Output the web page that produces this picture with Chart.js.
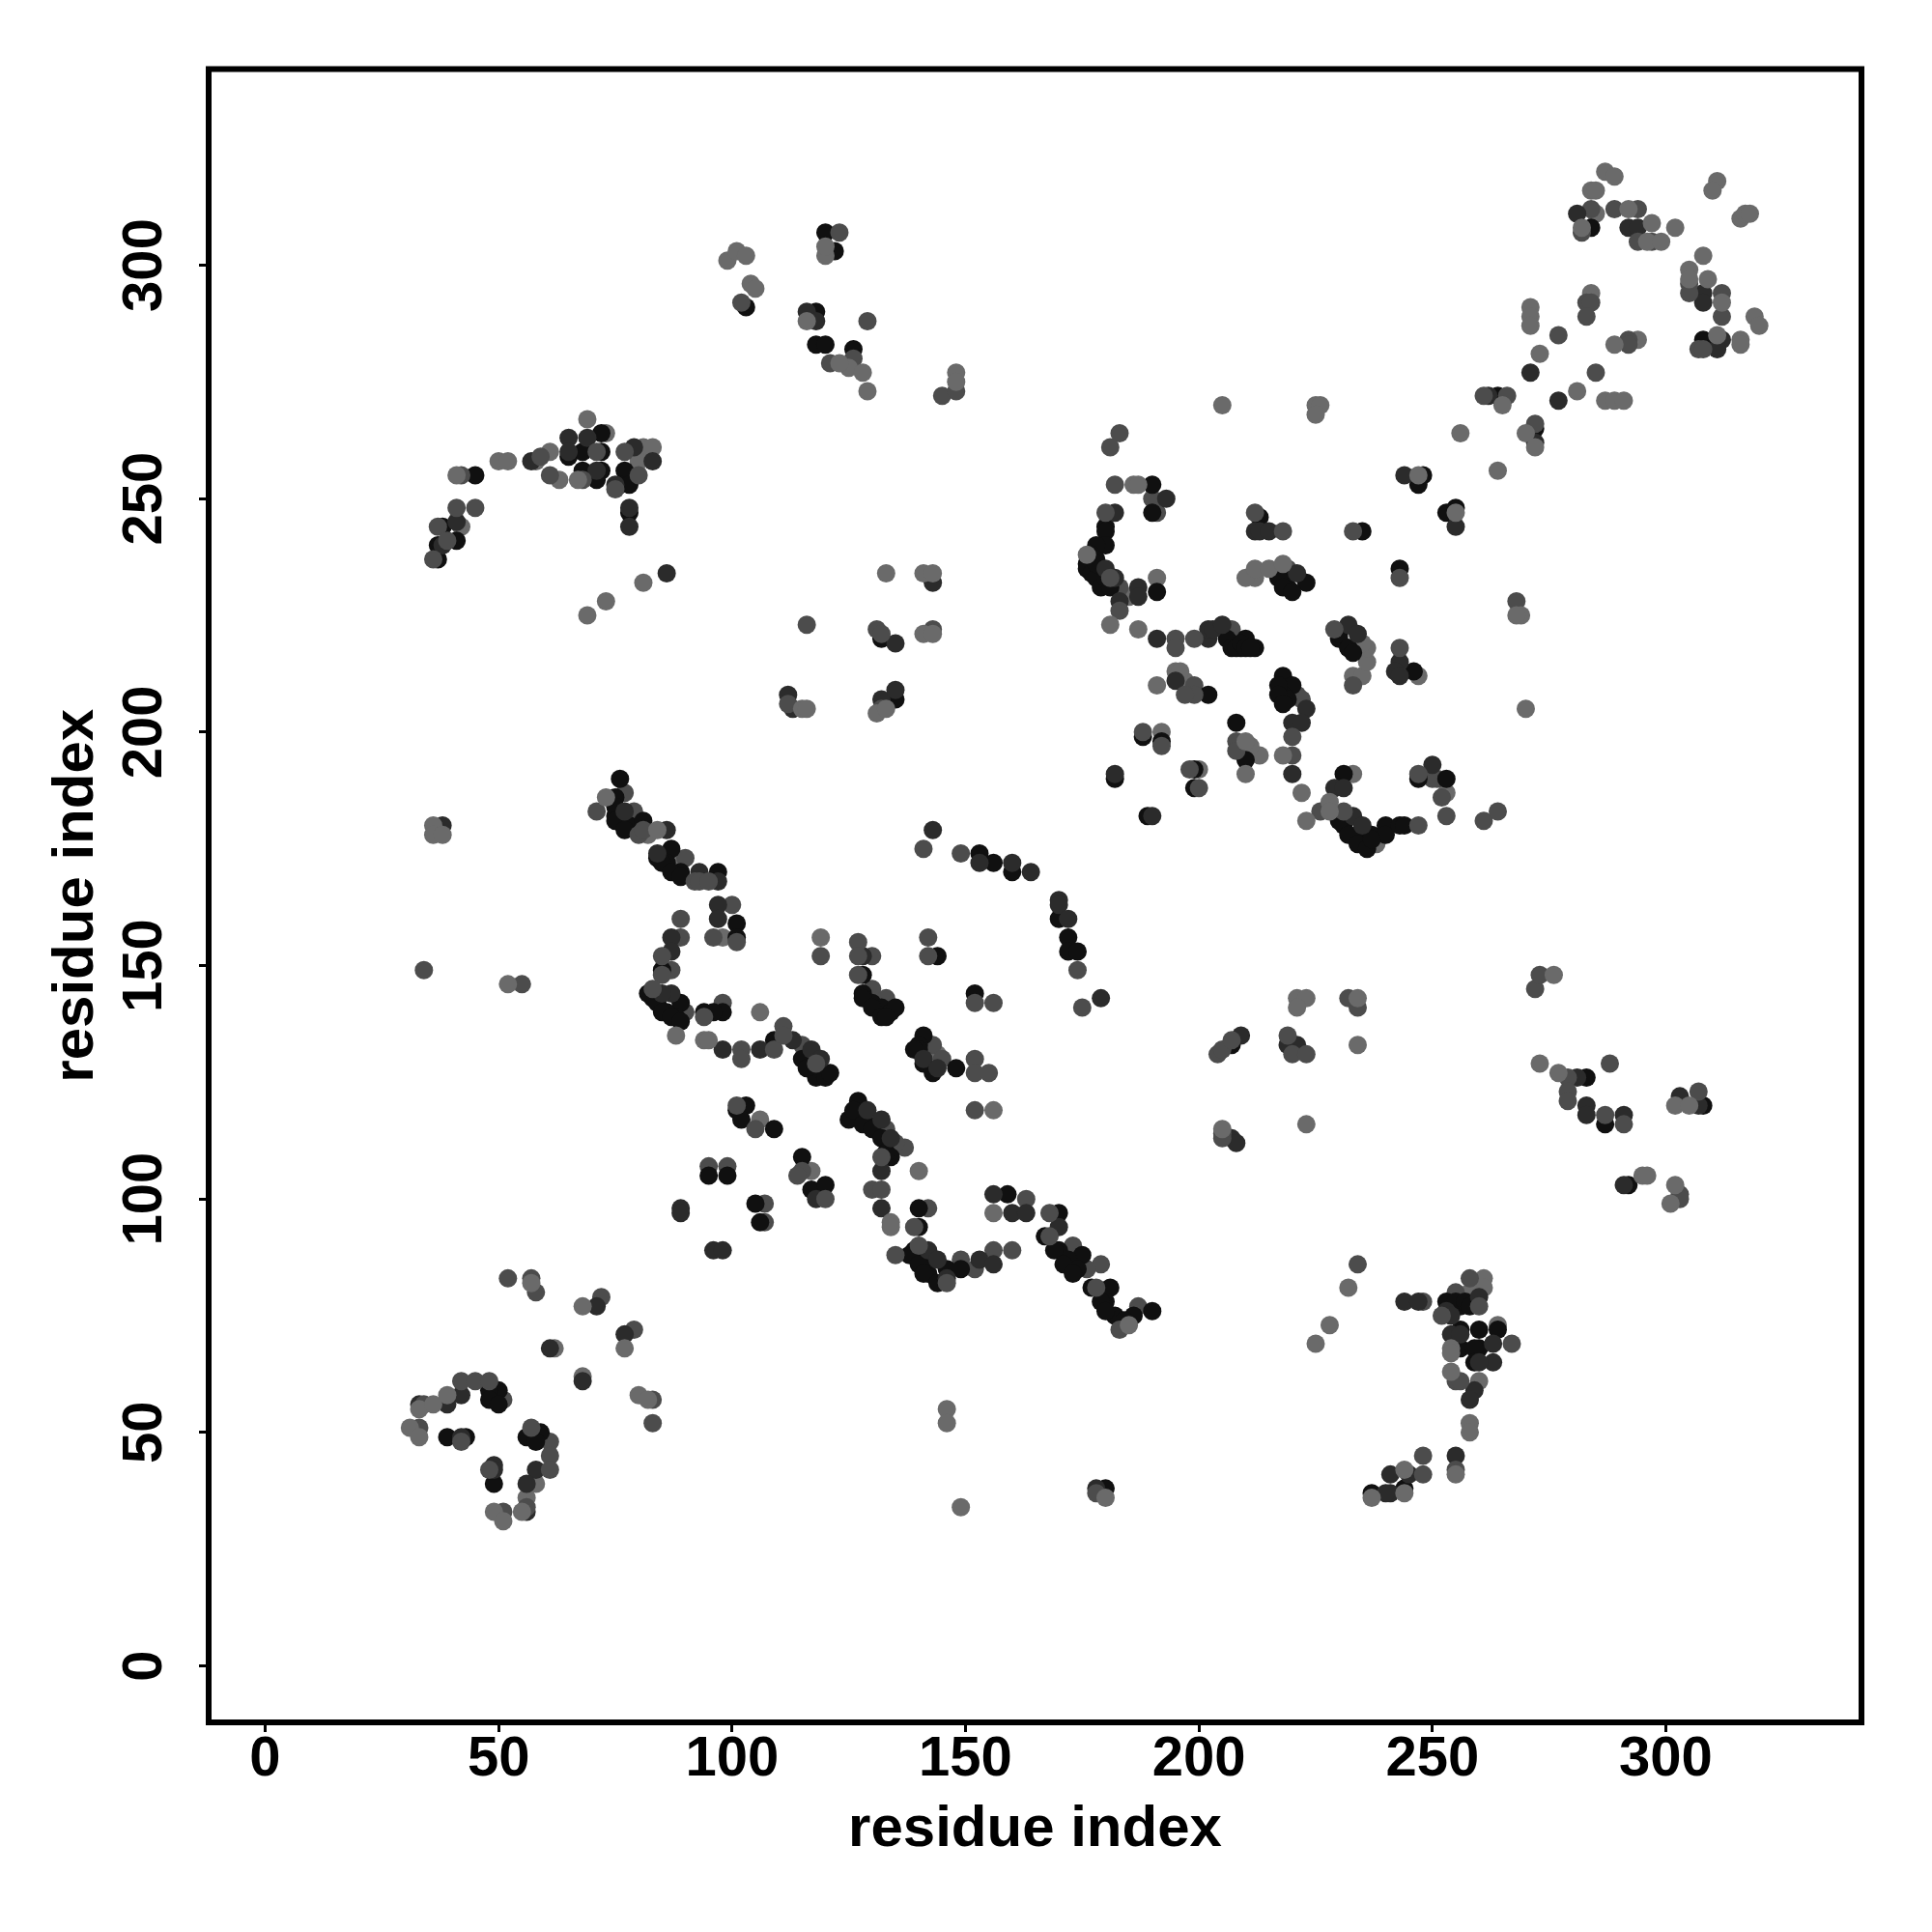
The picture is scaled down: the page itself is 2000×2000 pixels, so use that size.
<!DOCTYPE html>
<html>
<head>
<meta charset="utf-8">
<title>residue contacts</title>
<script src="https://cdn.jsdelivr.net/npm/chart.js@4"></script>
<style>
  html, body { margin: 0; padding: 0; background: #fff; }
  canvas { display: block; }
</style>
</head>
<body>
<canvas id="contacts" width="2000" height="2000"></canvas>
<script>
var tickValues = [0, 50, 100, 150, 200, 250, 300];
var axisTitle = "residue index";

// contacts, one x and one y list per grey level
var lightX = [41,50,52,69,67,81,73,69,73,84,106,88,94,95,156,140,134,134,33,36,
  31,33,39,49,51,55,57,68,77,80,82,254,254,254,258,258,255,244,244,237,
  232,186,187,176,181,187,210,212,215,218,256,264,269,270,191,210,210,222,223,228,
  228,218,247,255,287,289,284,285,282,292,297,296,299,302,311,310,316,317,318,308,
  305,305,309,312,319,316,316,320,311,271,271,271,273,281,287,289,291,289,265,270,
  272,99,101,103,104,105,116,120,120,125,123,128,129,148,148,205,225,226,225,133,
  141,143,141,143,115,116,131,133,221,223,221,205,223,234,234,273,277,276,295,296,
  302,301,302,305,36,36,38,52,146,146,149,180,268,228,225,156,185];
var lightY = [255,258,258,267,254,232,228,225,186,179,140,135,134,134,119,106,95,94,55,56,
  51,49,58,33,31,33,82,77,68,58,57,68,67,63,52,50,41,42,37,36,
  81,253,253,238,223,222,233,235,235,236,264,256,225,205,210,198,191,187,181,185,
  183,195,255,247,320,319,316,316,308,312,309,305,305,308,318,316,310,311,311,302,
  299,297,297,292,289,284,283,287,285,291,289,287,281,273,271,271,271,283,270,264,
  261,301,303,302,296,295,288,302,304,278,279,277,273,277,275,270,270,270,268,234,
  234,234,221,221,205,205,204,205,143,143,141,115,116,143,133,129,127,148,105,105,
  103,99,120,120,180,178,178,146,55,52,34,36,225,73,69,97,73];

var midX = [36,37,39,41,45,42,59,61,68,71,75,77,80,116,71,80,81,92,93,95,
  96,101,89,85,85,83,94,102,102,109,111,118,141,149,174,175,119,127,127,127,
  142,142,152,156,152,155,152,101,105,132,130,132,139,135,140,146,160,168,168,178,
  183,115,114,120,52,57,34,33,42,45,48,42,57,61,61,56,48,51,83,234,
  252,258,260,255,256,255,248,248,267,183,181,182,180,181,183,195,195,199,212,218,
  233,243,229,233,243,268,199,197,220,220,208,208,188,192,198,200,226,231,247,247,
  252,253,261,264,289,294,282,294,297,305,305,312,307,308,277,285,283,284,283,292,
  266,272,145,148,123,126,121,129,131,132,143,112,132,204,205,207,219,220,223,232,
  234,205,205,279,288,279,279,287,291,272,273,303,303,307,34,55,178,102,261];
var midY = [237,244,241,248,248,255,259,255,254,260,252,260,255,223,183,178,179,168,168,168,
  156,155,160,152,148,145,139,132,130,132,135,129,175,174,149,141,152,155,152,148,
  156,152,142,142,127,127,119,120,115,109,102,102,94,88,90,82,89,97,92,81,
  72,106,105,100,83,83,56,51,61,61,61,48,51,45,42,34,42,33,52,86,
  75,83,77,61,61,42,45,41,69,264,261,253,247,233,226,220,218,220,247,243,
  243,233,222,210,218,228,208,208,199,195,198,196,200,197,192,188,183,183,180,191,
  186,182,181,183,312,312,307,305,305,296,294,294,282,282,285,277,292,292,289,283,
  272,266,272,273,307,280,279,288,222,221,222,206,205,131,132,134,135,131,131,143,
  141,114,113,126,129,123,121,118,116,145,148,101,100,123,149,146,37,292,272];

var darkX = [38,41,65,65,69,71,75,79,83,78,78,86,57,77,86,84,93,97,97,97,
  87,87,87,85,98,106,113,117,119,143,153,160,164,170,170,172,179,128,141,144,
  182,190,129,132,134,132,132,142,144,146,153,156,156,160,163,170,118,89,89,96,
  98,77,61,71,68,33,39,42,42,58,56,49,49,56,244,247,260,253,254,254,
  256,263,263,260,259,258,255,245,241,241,240,193,182,180,182,183,187,187,191,202,
  202,203,205,212,213,215,221,232,234,243,242,243,244,255,195,223,220,222,220,229,
  231,233,235,250,281,292,294,308,308,312,311,271,277,272,143,112,113,132,135,135,
  116,118,209,219,221,207,208,281,283,283,291,291,303,307,38,178,262];
var darkY = [240,245,263,260,263,256,253,261,258,248,244,234,258,183,179,174,170,168,163,160,
  156,153,144,144,132,132,134,132,130,179,172,172,170,164,163,160,143,152,130,128,
  191,182,119,117,113,106,98,89,87,83,87,86,101,97,97,94,100,98,97,89,
  89,71,68,77,61,56,56,58,49,42,39,43,42,33,78,78,79,76,75,71,
  71,69,65,65,59,57,45,41,41,37,37,250,247,235,233,228,231,229,220,220,
  222,222,223,243,243,243,234,223,221,215,213,212,255,244,211,205,202,202,191,188,
  188,182,180,193,311,308,308,294,292,284,282,277,271,262,232,208,205,207,209,219,
  290,288,135,133,133,113,112,126,120,118,118,103,122,120,180,38,272];

var blackX = [37,37,38,41,45,65,68,72,72,68,72,71,77,76,78,78,76,75,75,78,
  81,87,86,89,97,101,101,85,83,89,86,88,94,98,96,109,116,118,120,121,
  153,156,160,172,172,174,170,128,128,130,132,134,135,144,152,141,140,140,148,189,
  182,103,101,102,109,127,126,129,134,140,140,139,141,142,146,149,159,170,170,175,
  172,174,181,180,182,186,190,115,117,120,95,99,105,106,49,50,48,48,50,39,
  43,56,59,58,253,256,256,260,264,256,260,259,259,244,237,190,190,180,180,180,
  178,177,176,177,179,191,207,210,209,212,213,218,219,223,235,243,248,247,253,255,
  230,232,246,202,218,220,218,219,208,210,188,192,199,199,231,231,234,237,236,240,
  240,243,244,247,253,284,308,272,264,118,118,120,120,122,126,103,132,135,207,283,
  287,292,308,180,
  176,177,178,179,180,181,178,178,206,207,208,209,210,211,217,218,220,230,232,233,
  217,217,218,230,232,234,236,237,75,75,77,84,85,87,89,82,84,85,87,89,
  115,116,128,130,132,133,139,141,143,125,126,128,130,132,133,138,140,141,144,167,
  169,171,173,177,179,180,184,255,257,258];
var blackY = [237,240,244,241,255,259,260,264,260,256,256,254,256,253,253,247,190,186,182,180,
  181,175,172,170,170,159,156,149,143,142,140,139,140,140,140,134,129,126,126,127,
  174,172,170,156,153,153,160,148,144,142,141,140,141,152,144,135,133,132,128,182,
  190,120,119,117,115,121,118,116,109,98,94,89,86,84,85,85,101,97,89,88,
  87,85,81,78,75,75,76,109,102,103,105,105,99,95,39,59,59,57,56,49,
  49,49,50,48,78,77,72,72,72,68,68,68,65,38,37,253,247,244,243,240,
  240,238,236,235,232,230,219,220,218,218,246,233,231,232,243,235,255,253,247,248,
  220,218,213,208,212,210,208,207,202,194,199,198,192,188,191,180,178,178,176,180,
  178,180,180,190,190,308,284,265,272,290,283,283,307,303,282,291,220,207,133,126,
  116,103,120,38,
  235,234,233,231,233,231,237,236,220,218,218,219,218,218,233,231,230,221,218,217,
  210,208,206,181,178,176,175,177,184,181,179,173,172,170,169,144,142,140,139,138,
  130,128,143,141,139,139,132,129,127,117,119,116,115,113,110,88,86,84,82,92,
  89,86,84,81,78,76,74,78,78,77];

// greys and mids that sit on top of the dark strands in the picture
var overMidX = [77,79,90,90,100,98,89,87,130,130,133,111,115,143,145,152,142,107,107,137,
  135,133,163,179,187,176,173,61,51,83,58,72,79,99,95,248,255,183,179,208,
  207,199,221,222,219,250,251,152,149,156,191,190,292,284,312];
var overMidY = [187,183,173,140,163,142,156,149,152,145,143,137,133,133,130,130,98,99,95,111,
  112,115,100,86,77,85,90,48,57,57,80,79,72,107,107,78,80,231,235,220,
  222,210,208,207,235,190,190,85,87,89,247,250,284,312,289];
var overLightX = [42,73,61,63,81,83,80,58,106,117,62,68,264,260,261,261,258,191,192,200,
  233,238,247,253,233,235,236,236,235,213,211,197,195,196,212,285,284,294,144,58,
  56,119,98,88,185,80,82];
var overLightY = [244,264,260,254,261,261,258,258,117,106,68,62,73,61,83,81,80,233,200,192,
  191,176,212,187,212,212,215,218,219,195,197,211,213,213,233,311,294,284,131,39,
  36,156,156,173,229,181,178];

// one grey per level, darkest strand last so it stays black
var levels = [
  { x: lightX, y: lightY, grey: "#6a6a6a" },
  { x: midX, y: midY, grey: "#4c4c4c" },
  { x: darkX, y: darkY, grey: "#2b2b2b" },
  { x: blackX, y: blackY, grey: "#101010" },
  { x: overMidX, y: overMidY, grey: "#4c4c4c" },
  { x: overLightX, y: overLightY, grey: "#6a6a6a" }
];

var tickFont = { family: "'Liberation Sans', sans-serif", size: 58, weight: "bold", lineHeight: 1 };
var titleFont = { family: "'Liberation Sans', sans-serif", size: 60, weight: "bold", lineHeight: 1 };

var datasets = levels.map(function(level) {
  return {
    data: level.x.map(function(v, i) { return { x: v, y: level.y[i] }; }),
    backgroundColor: level.grey,
    borderWidth: 0,
    pointRadius: 9.5,
    pointHoverRadius: 9.5
  };
});

// R style box around the plot
var boxPlugin = {
  id: "box",
  afterDraw: function(chart) {
    var a = chart.chartArea, ctx = chart.ctx;
    ctx.save();
    ctx.strokeStyle = "#000";
    ctx.lineWidth = 6;
    ctx.strokeRect(a.left, a.top, a.right - a.left, a.bottom - a.top);
    ctx.restore();
  }
};

function setTicks(scale) {
  scale.ticks = tickValues.map(function(v) { return { value: v }; });
}

new Chart(document.getElementById("contacts"), {
  type: "scatter",
  data: { datasets: datasets },
  plugins: [boxPlugin],
  options: {
    responsive: false,
    animation: false,
    layout: { padding: { top: 71.5, right: 73, left: 0, bottom: 0 } },
    plugins: { legend: { display: false }, tooltip: { enabled: false } },
    scales: {
      x: {
        type: "linear",
        min: -12.1,
        max: 341.9,
        afterBuildTicks: setTicks,
        afterFit: function(scale) { scale.height = 217; },
        border: { display: false },
        grid: { drawOnChartArea: false, tickLength: 10, tickWidth: 3, tickColor: "#000" },
        ticks: { color: "#000", font: tickFont, padding: 0, maxRotation: 0, autoSkip: false },
        title: { display: true, text: axisTitle, color: "#000", font: titleFont, padding: { top: 0, bottom: 76 } }
      },
      y: {
        type: "linear",
        min: -12.1,
        max: 342,
        afterBuildTicks: setTicks,
        afterFit: function(scale) { scale.width = 216; },
        border: { display: false },
        grid: { drawOnChartArea: false, tickLength: 10, tickWidth: 3, tickColor: "#000" },
        ticks: { color: "#000", font: tickFont, padding: 7, minRotation: 90, maxRotation: 90, crossAlign: "center", autoSkip: false },
        title: { display: true, text: axisTitle, color: "#000", font: titleFont, padding: { top: 49, bottom: 0 } }
      }
    }
  }
});
</script>
</body>
</html>
